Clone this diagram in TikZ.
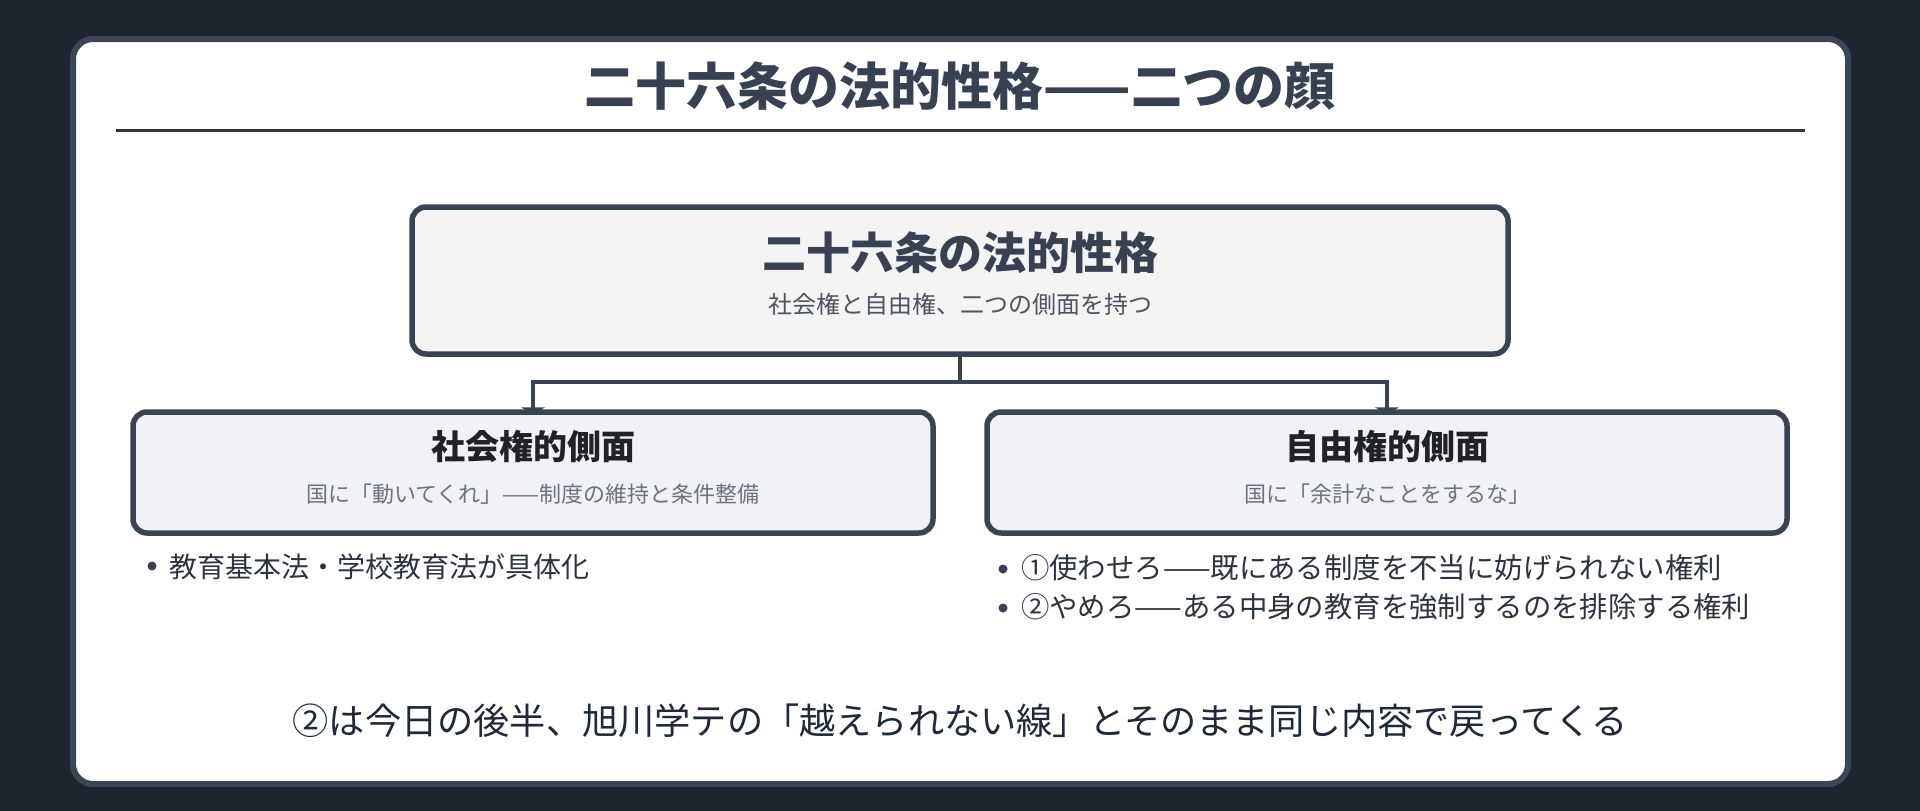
\documentclass[tikz,border=0pt]{standalone}
\usepackage{fontspec}
\setmainfont{Noto Sans CJK JP}
\usetikzlibrary{arrows.meta}
\definecolor{bgc}{HTML}{1F2530}
\definecolor{cardline}{HTML}{3B4554}
\definecolor{boxline}{HTML}{3A4351}
\definecolor{titlec}{HTML}{374151}
\definecolor{rulec}{HTML}{2D3340}
\definecolor{topfill}{HTML}{F4F4F5}
\definecolor{sidefill}{HTML}{F0F2F5}
\definecolor{sidetitle}{HTML}{1F2328}
\definecolor{subc}{HTML}{4B5563}
\definecolor{subc2}{HTML}{6B7280}
\definecolor{itemc}{HTML}{2D3340}
\definecolor{dotc}{HTML}{374151}
\definecolor{notec}{HTML}{1F2937}
\tikzset{
  card/.style={draw=cardline, fill=white, line width=6pt, rounded corners=20pt, inner sep=0pt},
  topbox/.style={draw=boxline, fill=topfill, line width=5.5pt, rounded corners=14pt, inner sep=0pt},
  sidebox/.style={draw=boxline, fill=sidefill, line width=5.5pt, rounded corners=14pt, inner sep=0pt, minimum width=800pt, minimum height=121pt},
  txt/.style={inner sep=0pt, outer sep=0pt},
  conn/.style={draw=boxline, line width=4.5pt},
  tipped/.style={conn, -{Triangle[width=24pt,length=7pt]}},
  dotb/.style={circle, fill=dotc, inner sep=0pt, minimum size=9pt},
}
\begin{document}
\begin{tikzpicture}[x=1pt,y=-1pt]
\fill[bgc] (0,0) rectangle (1920,811);
\useasboundingbox (0,0) rectangle (1920,811);
% card
\node[card, minimum width=1775pt, minimum height=745pt] (card) at (960.5,411.5) {};
% title
\node[txt, text=titlec, font=\fontsize{51}{60}\selectfont\bfseries] (title) at (960,86) {二十六条の法的性格——二つの顔};
\coordinate (rl) at (116,130.5);
\coordinate (rr) at (1805,130.5);
\draw[rulec, line width=3pt] (rl) -- (rr);
% top box
\node[topbox, minimum width=1096pt, minimum height=147pt] (top) at (960,280.5) {};
\node[txt, text=titlec, font=\fontsize{44}{52}\selectfont\bfseries] (toptitle) at (960,253) {二十六条の法的性格};
\node[txt, text=subc, font=\fontsize{24}{30}\selectfont] (topsub) at (960,304) {社会権と自由権、二つの側面を持つ};
% side boxes
\node[sidebox] (soc) at (533,472.5) {};
\node[sidebox] (lib) at (1387,472.5) {};
% connectors
\coordinate (j) at (960,382);
\draw[conn] (top.south) -- (j);
\draw[tipped] (j) -| ([yshift=-5pt]soc.north);
\draw[tipped] (j) -| ([yshift=-5pt]lib.north);
% side texts
\node[txt, text=sidetitle, font=\fontsize{34}{40}\selectfont\bfseries] (soct) at (533,446) {社会権的側面};
\node[txt, text=subc2, font=\fontsize{22}{28}\selectfont] (socs) at (533,494) {国に「動いてくれ」——制度の維持と条件整備};
\node[txt, text=sidetitle, font=\fontsize{34}{40}\selectfont\bfseries] (libt) at (1387,446) {自由権的側面};
\node[txt, text=subc2, font=\fontsize{22}{28}\selectfont] (libs) at (1387,494) {国に「余計なことをするな」};
% bullets
\node[dotb] (d1) at (152,566) {};
\node[txt, anchor=west, text=itemc, font=\fontsize{28}{34}\selectfont] (i1) at (169,567) {教育基本法・学校教育法が具体化};
\node[dotb] (d2) at (1003,569) {};
\node[txt, anchor=west, text=itemc, font=\fontsize{28.4}{34}\selectfont] (i2) at (1021,568) {①使わせろ——既にある制度を不当に妨げられない権利};
\node[dotb] (d3) at (1003,608) {};
\node[txt, anchor=west, text=itemc, font=\fontsize{28.4}{34}\selectfont] (i3) at (1021,607) {②やめろ——ある中身の教育を強制するのを排除する権利};
% note
\node[txt, text=notec, font=\fontsize{36.2}{44}\selectfont] (note) at (960,720.5) {②は今日の後半、旭川学テの「越えられない線」とそのまま同じ内容で戻ってくる};
\end{tikzpicture}
\end{document}
